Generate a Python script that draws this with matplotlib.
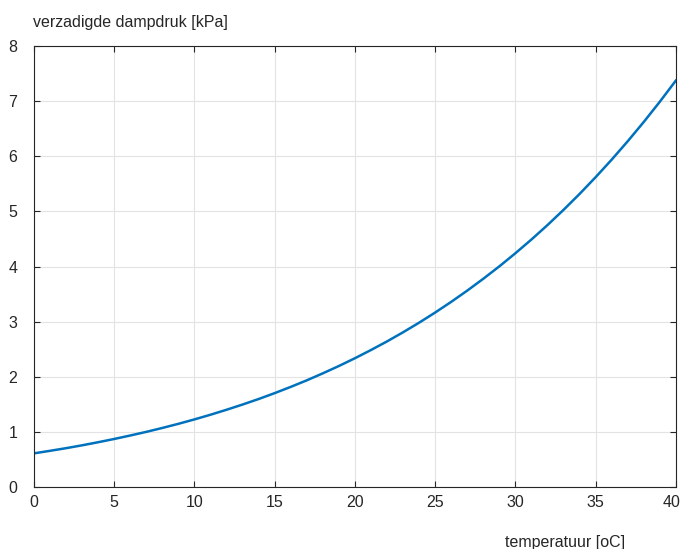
import matplotlib
matplotlib.use('Agg')
import matplotlib.pyplot as plt
import matplotlib.transforms as mtransforms

# saturated vapour pressure, per degree C
temperature = list(range(0, 41))
pressure = [0.611, 0.657, 0.705, 0.757, 0.813, 0.872, 0.935, 1.001, 1.072, 1.147,
            1.227, 1.312, 1.402, 1.497, 1.597, 1.704, 1.817, 1.936, 2.063, 2.196,
            2.337, 2.486, 2.642, 2.808, 2.982, 3.166, 3.360, 3.564, 3.779, 4.004,
            4.242, 4.491, 4.753, 5.029, 5.318, 5.622, 5.940, 6.274, 6.624, 6.991,
            7.375]
xticks = [0, 5, 10, 15, 20, 25, 30, 35, 40]
yticks = [0, 1, 2, 3, 4, 5, 6, 7, 8]

plt.rcParams['font.family'] = ['Liberation Sans', 'DejaVu Sans']
plt.rcParams['font.size'] = 11.5

fig = plt.figure(figsize=(6.82, 5.49), dpi=100)
ax = fig.add_axes([0.0499, 0.1129, 0.9411, 0.8031])

ax.plot(temperature, pressure, color='#0072BD', linewidth=1.8)

ax.set_xlim(0, 40)
ax.set_ylim(0, 8)
ax.set_xticks(xticks)
ax.set_yticks(yticks)
ax.grid(True, color='#e3e3e3', linewidth=0.8)
ax.set_axisbelow(True)
ax.tick_params(direction='in', length=4, width=0.8, colors='#262626',
               top=True, right=True, labelcolor='#262626')
ax.tick_params(axis='x', pad=6)
ax.tick_params(axis='y', pad=12)
for s in ax.spines.values():
    s.set_color('#262626')
    s.set_linewidth(0.8)

# last x label sits against the edge, nudge it in a bit
last = ax.get_xticklabels()[-1]
last.set_transform(last.get_transform() +
                   mtransforms.ScaledTranslation(-4 / 100, 0, fig.dpi_scale_trans))

fig.text(33 / 682, 1 - 22 / 549, 'verzadigde dampdruk [kPa]', ha='left',
         va='center', color='#262626', fontsize=11.5)
fig.text(565 / 682, 1 - 543 / 549, 'temperatuur [oC]', ha='center',
         va='center', color='#262626', fontsize=11.5)

fig.savefig('out.png', dpi=100)
